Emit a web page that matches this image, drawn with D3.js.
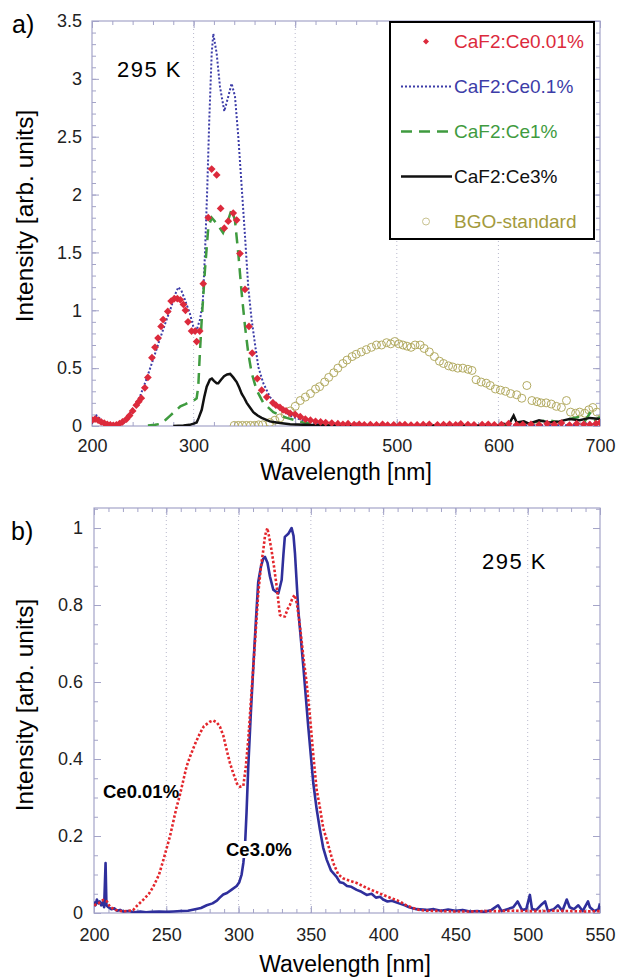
<!DOCTYPE html>
<html>
<head>
<meta charset="utf-8">
<script src="https://cdn.jsdelivr.net/npm/d3@7"></script>
<style>
  body { margin: 0; background: #fff; }
  svg text { font-family: "Liberation Sans", Arial, sans-serif; }
</style>
</head>
<body>
<svg width="619" height="979"></svg>
<script>
// ---- panel a) data: [wavelength nm, intensity] ----
var ce001A = [[200,0.05],[203,0.06],[206,0.05],[209,0.035],[212,0.025],[215,0.015],[218,0.01],[221,0.006],[224,0.01],[227,0.02],[230,0.035],[234,0.06],[237,0.09],[240,0.13],[243.6,0.18],[246,0.21],[248.5,0.24],[252,0.33],[255,0.42],[259,0.59],[262,0.68],[265,0.76],[268,0.86],[270,0.92],[274.6,0.99],[277.9,1.08],[281,1.1],[284,1.1],[287,1.09],[290,1.05],[292,1.0],[294.5,0.9],[298,0.82],[301.5,0.82],[303,0.73],[306,0.82],[309.5,1.23],[314.4,1.8],[317.8,2.22],[322.7,2.17],[326.6,1.88],[330.2,1.71],[334.1,1.77],[339,1.84],[342.4,1.78],[345.6,1.49],[350.6,1.18],[354.5,0.86],[357.7,0.63],[362.7,0.41],[367,0.31],[372,0.25],[378,0.2],[381,0.18],[385,0.16],[388,0.14],[391,0.13],[395,0.11],[400,0.1],[405,0.08],[410,0.06],[415,0.05],[420,0.04],[425,0.035],[430,0.03],[436,0.025],[442,0.02],[447,0.015],[452,0.02],[458,0.012],[463,0.015],[468,0.01],[474,0.012],[480,0.01],[486,0.015],[491,0.008],[497,0.01],[503,0.01],[508,0.012],[514,0.008],[520,0.01],[526,0.012],[532,0.015],[540,0.01],[546,0.012],[552,0.015],[558,0.01],[563,0.018],[570,0.012],[576,0.01],[584,0.012],[590,0.015],[596,0.01],[603,0.012],[610,0.02],[618,0.01],[624,0.012],[632,0.015],[640,0.01],[648,0.02],[655,0.012],[662,0.025],[670,0.008],[677,0.02],[684,0.015],[690,0.012],[696,0.02],[700,0.03]];

var ce01A = [[200,0.02],[202,0.06],[204.6,0.09],[207,0.07],[211,0.035],[215,0.02],[221,0.006],[226,0.01],[230.6,0.02],[235,0.06],[240,0.15],[247,0.25],[253.4,0.4],[260,0.57],[266.4,0.74],[273,0.91],[278,1.03],[282,1.14],[285,1.2],[288,1.17],[291.5,1.09],[296.4,0.97],[299.7,0.86],[303,0.83],[306.3,0.92],[309,1.06],[311.2,1.49],[313.5,2.07],[315.4,2.64],[317.8,3.22],[319.4,3.39],[322.7,3.22],[326,2.93],[330.2,2.72],[334.2,2.85],[337.4,2.96],[340.7,2.85],[344,2.5],[347.3,2.07],[350.6,1.64],[353.8,1.2],[357.1,0.92],[360.4,0.71],[363.7,0.51],[368.6,0.37],[375.2,0.25],[381,0.19],[388.3,0.14],[395,0.09],[400,0.07],[408,0.05],[415,0.03],[425,0.02],[440,0.01],[460,0.005],[500,0.004],[560,0.004],[620,0.005],[660,0.006],[680,0.01],[690,0.03],[695,0.01],[700,0.02]];

var ce1A = [[255,0.005],[262,0.01],[268,0.02],[272,0.05],[277,0.09],[282,0.13],[287,0.17],[292,0.19],[296.4,0.21],[300,0.22],[303,0.24],[304.6,0.34],[306,0.6],[308,0.92],[311.2,1.35],[314.5,1.72],[317.8,1.8],[322.7,1.75],[329,1.67],[334,1.78],[337.4,1.87],[340.7,1.78],[344,1.49],[347.3,1.15],[350.6,0.86],[353.8,0.63],[357.1,0.46],[362,0.31],[368.6,0.2],[378.5,0.12],[391.6,0.07],[408,0.03],[420,0.015],[440,0.005],[500,0.004],[560,0.005],[600,0.006],[610,0.01],[620,0.03],[630,0.02],[640,0.04],[650,0.05],[660,0.03],[670,0.06],[680,0.08],[685,0.04],[690,0.11],[695,0.05],[700,0.08]];

var ce3A = [[280,0.0],[290,0.005],[296,0.01],[300,0.02],[303,0.03],[305,0.07],[308,0.14],[310.5,0.25],[312.9,0.34],[316,0.4],[318,0.41],[320,0.39],[322.7,0.37],[324.3,0.37],[327,0.4],[330,0.43],[333,0.445],[336,0.45],[339,0.42],[342.4,0.38],[345,0.33],[347.3,0.28],[350,0.24],[352.3,0.2],[355.5,0.16],[358.8,0.12],[363,0.09],[367,0.07],[375,0.04],[385,0.025],[395,0.015],[410,0.01],[430,0.005],[500,0.004],[560,0.005],[600,0.005],[605,0.02],[610,0.01],[615,0.09],[618,0.03],[625,0.04],[630,0.02],[640,0.05],[650,0.03],[660,0.04],[670,0.06],[680,0.05],[690,0.07],[700,0.06]];

var bgoA = [[340,0.005],[344,0.005],[348,0.005],[352,0.005],[356,0.005],[360,0.005],[364,0.01],[368,0.01],[375,0.03],[380,0.05],[385,0.07],[390,0.1],[395,0.13],[400,0.17],[405,0.22],[410,0.25],[415,0.28],[420,0.32],[424,0.34],[429,0.38],[433,0.42],[438,0.46],[442,0.5],[447,0.54],[451,0.57],[456,0.6],[460,0.62],[465,0.64],[470,0.66],[475,0.68],[480,0.7],[485,0.7],[490,0.72],[494,0.71],[498,0.73],[502,0.71],[506,0.7],[510,0.69],[514,0.68],[518,0.7],[523,0.7],[527,0.67],[532,0.64],[537,0.6],[542,0.56],[546,0.54],[551,0.52],[555,0.51],[560,0.5],[565,0.5],[570,0.49],[574,0.48],[578,0.4],[583,0.38],[588,0.37],[592,0.35],[597,0.32],[602,0.31],[607,0.3],[612,0.28],[618,0.27],[623,0.24],[628,0.35],[633,0.22],[638,0.21],[642,0.2],[647,0.2],[652,0.19],[657,0.17],[662,0.16],[667,0.22],[671,0.12],[676,0.11],[680,0.12],[685,0.11],[689,0.14],[693,0.16],[697,0.12]];

// ---- panel b) data ----
var ce001B = [[200,0.02],[203,0.025],[206.4,0.034],[209,0.03],[211,0.016],[215,0.008],[220,0.004],[227,0.007],[230,0.02],[234,0.034],[238,0.05],[241,0.068],[245,0.1],[248,0.138],[250,0.165],[252.6,0.2],[255,0.24],[257.2,0.276],[259,0.3],[261.8,0.345],[264,0.38],[266.4,0.406],[270,0.44],[273.3,0.467],[276,0.485],[280.2,0.497],[282.5,0.5],[285,0.495],[287.1,0.484],[289.5,0.46],[291.8,0.423],[294,0.39],[296.3,0.363],[299,0.335],[301,0.328],[303.3,0.33],[305,0.38],[306.7,0.45],[308.5,0.55],[310.2,0.64],[312,0.74],[313.6,0.83],[315.5,0.9],[317,0.94],[318.3,0.98],[319.9,1.0],[321.5,0.97],[322.9,0.94],[324.5,0.9],[326.3,0.85],[328.6,0.774],[330.5,0.77],[332,0.77],[334,0.79],[335.5,0.8],[337.5,0.82],[339,0.826],[340.5,0.8],[342.5,0.744],[345,0.66],[347,0.6],[349.4,0.51],[351.7,0.41],[354,0.32],[356,0.28],[358.6,0.22],[361,0.19],[365.5,0.13],[369,0.1],[372.4,0.09],[376,0.085],[381.7,0.078],[388.6,0.065],[395,0.055],[400,0.047],[406,0.038],[411.6,0.03],[416,0.02],[420.6,0.013],[425,0.008],[430,0.006],[440,0.005],[450,0.004],[460,0.004],[470,0.005],[480,0.005],[490,0.006],[500,0.005],[510,0.005],[520,0.006],[530,0.005],[540,0.004],[550,0.005]];

var ce3B = [[200,0.03],[201,0.02],[202,0.035],[203,0.025],[204,0.03],[205,0.02],[206,0.028],[207,0.015],[208,0.13],[208.6,0.02],[210,0.015],[212,0.01],[214,0.012],[216,0.006],[218,0.008],[220,0.004],[224,0.005],[228,0.002],[232,0.004],[236,0.002],[240,0.003],[245,0.004],[250,0.003],[255,0.004],[260,0.005],[265,0.006],[270,0.01],[274,0.013],[278,0.02],[282,0.025],[285,0.032],[287,0.04],[289.4,0.048],[292,0.052],[295,0.06],[298.7,0.07],[300.5,0.08],[302.1,0.1],[303.3,0.13],[304.4,0.17],[305.5,0.26],[306.7,0.38],[308.5,0.52],[310.2,0.64],[312,0.76],[313.6,0.86],[315.5,0.9],[317,0.92],[318.3,0.925],[320,0.91],[321.7,0.874],[324,0.84],[327.5,0.83],[329.8,0.865],[331,0.93],[332,0.977],[334.4,0.985],[336.7,1.0],[338,0.98],[339,0.935],[341.3,0.787],[344.8,0.64],[348.2,0.484],[351.7,0.337],[354,0.27],[356.3,0.216],[358.5,0.17],[361,0.138],[364,0.11],[367.8,0.094],[370,0.08],[372.4,0.078],[375,0.07],[378,0.068],[381.7,0.06],[385,0.055],[388.6,0.047],[392,0.05],[395,0.04],[398,0.042],[400,0.035],[403,0.03],[406,0.032],[411,0.025],[415,0.02],[418,0.015],[423,0.01],[430,0.008],[435,0.01],[440,0.006],[445,0.009],[450,0.006],[455,0.008],[460,0.004],[465,0.005],[470,0.003],[475,0.008],[479.5,0.02],[482,0.005],[486,0.01],[490,0.015],[493,0.03],[496,0.008],[499,0.01],[501.5,0.047],[503,0.01],[506,0.008],[509,0.02],[512,0.03],[514,0.005],[518,0.01],[521,0.02],[524,0.005],[527,0.035],[529,0.015],[532,0.01],[535,0.02],[538,0.005],[541.7,0.03],[543,0.015],[546,0.005],[549,0.01],[550,0.025]];

// ---- tick labels / legend ----
var xTicksA = [200, 300, 400, 500, 600, 700];
var yTicksA = [0, 0.5, 1, 1.5, 2, 2.5, 3, 3.5];
var xTicksB = [200, 250, 300, 350, 400, 450, 500, 550];
var yTicksB = [0, 0.2, 0.4, 0.6, 0.8, 1];
var legendNames = ["CaF2:Ce0.01%", "CaF2:Ce0.1%", "CaF2:Ce1%", "CaF2:Ce3%", "BGO-standard"];
var legendColors = ["#dc2a3c", "#3c3ca8", "#3f9b3f", "#111111", "#a39a3c"];

var svg = d3.select("svg");
var frameColor = "#a4a4c8";

function axes(g, x, y, o) {
  var w = x.range()[1], h = y.range()[0];
  var fmt = function(d) { return String(d); };

  g.selectAll(".grid").data(o.grid).enter().append("line")
      .attr("x1", function(d) { return x(d); }).attr("x2", function(d) { return x(d); })
      .attr("y1", 0).attr("y2", h)
      .attr("stroke", "#b8b8cc").attr("stroke-width", 1).attr("stroke-dasharray", "1,3");

  var list = [
    [d3.axisBottom(x).tickValues(o.xMinor).tickSize(-4).tickFormat(""), 0, h],
    [d3.axisTop(x).tickValues(o.xMinor).tickSize(-4).tickFormat(""), 0, 0],
    [d3.axisLeft(y).tickValues(o.yMinor).tickSize(-4).tickFormat(""), 0, 0],
    [d3.axisRight(y).tickValues(o.yMinor).tickSize(-4).tickFormat(""), w, 0],
    [d3.axisBottom(x).tickValues(o.xTicks).tickSize(-7).tickPadding(o.xPad).tickFormat(fmt), 0, h],
    [d3.axisTop(x).tickValues(o.xTicks).tickSize(-7).tickFormat(""), 0, 0],
    [d3.axisLeft(y).tickValues(o.yTicks).tickSize(-7).tickPadding(o.yPad).tickFormat(fmt), 0, 0],
    [d3.axisRight(y).tickValues(o.yTicks).tickSize(-7).tickFormat(""), w, 0]
  ];
  list.forEach(function(a) {
    var ax = g.append("g")
        .attr("transform", "translate(" + a[1] + "," + a[2] + ")")
        .call(a[0].tickSizeOuter(0));
    ax.select(".domain").remove();
    ax.selectAll("line").attr("stroke", frameColor);
    ax.attr("font-size", 18).attr("font-family", null);
    ax.selectAll("text").attr("fill", "#222");
  });

  g.append("rect")
      .attr("width", w).attr("height", h)
      .attr("fill", "none").attr("stroke", frameColor).attr("stroke-width", 1.2);
}

// ================= panel a =================
var wA = 508, hA = 405;
var xA = d3.scaleLinear().domain([200, 700]).range([0, wA]);
var yA = d3.scaleLinear().domain([0, 3.5]).range([hA, 0]);
var gA = svg.append("g").attr("transform", "translate(92,21)");

axes(gA, xA, yA, {
  grid: [300, 400, 500, 600],
  xTicks: xTicksA, yTicks: yTicksA,
  xMinor: d3.range(200, 701, 20), yMinor: d3.range(0, 3.51, 0.1),
  xPad: 13, yPad: 10
});

gA.append("clipPath").attr("id", "clipA").append("rect").attr("width", wA).attr("height", hA);
var plotA = gA.append("g").attr("clip-path", "url(#clipA)");
var lineA = d3.line().x(function(d) { return xA(d[0]); }).y(function(d) { return yA(d[1]); });

plotA.selectAll(".bgo").data(bgoA).enter().append("circle")
    .attr("cx", function(d) { return xA(d[0]); })
    .attr("cy", function(d) { return yA(d[1]); })
    .attr("r", 4)
    .attr("fill", "none").attr("stroke", "#b3ab62").attr("stroke-width", 1);

plotA.append("path").datum(ce01A).attr("d", lineA)
    .attr("fill", "none").attr("stroke", legendColors[1]).attr("stroke-width", 2)
    .attr("stroke-dasharray", "2,2");

plotA.append("path").datum(ce1A).attr("d", lineA)
    .attr("fill", "none").attr("stroke", legendColors[2]).attr("stroke-width", 2.5)
    .attr("stroke-dasharray", "11,7");

plotA.append("path").datum(ce3A).attr("d", lineA)
    .attr("fill", "none").attr("stroke", legendColors[3]).attr("stroke-width", 2.5);

var diamond = d3.symbol().type(d3.symbolSquare).size(30);
plotA.selectAll(".dia").data(ce001A).enter().append("path")
    .attr("d", diamond)
    .attr("transform", function(d) { return "translate(" + xA(d[0]) + "," + yA(d[1]) + ") rotate(45)"; })
    .attr("fill", legendColors[0]);

// legend
var leg = svg.append("g");
leg.append("rect")
    .attr("x", 390).attr("y", 22).attr("width", 204).attr("height", 217)
    .attr("fill", "#fff").attr("stroke", "#000").attr("stroke-width", 2);
legendNames.forEach(function(name, i) {
  var base = 48 + i * 45, cy = base - 6.5;
  if (i === 0) {
    leg.append("path").attr("d", d3.symbol().type(d3.symbolSquare).size(18))
        .attr("transform", "translate(426," + cy + ") rotate(45)")
        .attr("fill", legendColors[0]);
  } else if (i === 4) {
    leg.append("circle").attr("cx", 426).attr("cy", cy).attr("r", 3.5)
        .attr("fill", "none").attr("stroke", "#c8c290").attr("stroke-width", 1);
  } else {
    leg.append("line").attr("x1", 401).attr("x2", 452).attr("y1", cy).attr("y2", cy)
        .attr("stroke", legendColors[i])
        .attr("stroke-width", i === 1 ? 2 : 2.5)
        .attr("stroke-dasharray", i === 1 ? "2,2" : (i === 2 ? "11,7" : null));
  }
  leg.append("text").attr("x", 454).attr("y", base)
      .attr("font-size", 19).attr("fill", legendColors[i]).text(name);
});

svg.append("text").attr("x", 12).attr("y", 33).attr("font-size", 25).text("a)");
svg.append("text").attr("x", 117).attr("y", 77).attr("font-size", 22)
    .attr("letter-spacing", 1.5).text("295 K");
svg.append("text").attr("transform", "translate(33,216) rotate(-90)")
    .attr("text-anchor", "middle").attr("font-size", 24.5).text("Intensity [arb. units]");
svg.append("text").attr("x", 346).attr("y", 480).attr("text-anchor", "middle")
    .attr("font-size", 23).text("Wavelength [nm]");

// ================= panel b =================
var wB = 506, hB = 405;
var xB = d3.scaleLinear().domain([200, 550]).range([0, wB]);
var yB = d3.scaleLinear().domain([0, 1.052]).range([hB, 0]);
var gB = svg.append("g").attr("transform", "translate(94,508)");

axes(gB, xB, yB, {
  grid: [250, 300, 350, 400, 450, 500],
  xTicks: xTicksB, yTicks: yTicksB,
  xMinor: d3.range(200, 551, 10), yMinor: d3.range(0, 1.051, 0.05),
  xPad: 15, yPad: 11
});

gB.append("clipPath").attr("id", "clipB").append("rect").attr("width", wB).attr("height", hB);
var plotB = gB.append("g").attr("clip-path", "url(#clipB)");
var lineB = d3.line().x(function(d) { return xB(d[0]); }).y(function(d) { return yB(d[1]); });

plotB.append("path").datum(ce3B).attr("d", lineB)
    .attr("fill", "none").attr("stroke", "#2f2f9c").attr("stroke-width", 2.6)
    .attr("stroke-linejoin", "round");

plotB.append("path").datum(ce001B).attr("d", lineB)
    .attr("fill", "none").attr("stroke", "#e3262c").attr("stroke-width", 2.6)
    .attr("stroke-dasharray", "2.5,2");

svg.append("text").attr("x", 103).attr("y", 798).attr("font-size", 18.5)
    .attr("font-weight", "bold").text("Ce0.01%");
var lab3 = svg.append("text").attr("x", 226).attr("y", 856).attr("font-size", 18.5)
    .attr("font-weight", "bold").text("Ce3.0%");
var bb = lab3.node().getBBox();
svg.insert("rect", function() { return lab3.node(); })
    .attr("x", bb.x - 1).attr("y", bb.y + 2).attr("width", bb.width + 2).attr("height", bb.height - 4)
    .attr("fill", "#fff");

svg.append("text").attr("x", 11).attr("y", 540).attr("font-size", 25).text("b)");
svg.append("text").attr("x", 482).attr("y", 569).attr("font-size", 22)
    .attr("letter-spacing", 1.5).text("295 K");
svg.append("text").attr("transform", "translate(33,705) rotate(-90)")
    .attr("text-anchor", "middle").attr("font-size", 24.5).text("Intensity [arb. units]");
svg.append("text").attr("x", 345).attr("y", 972).attr("text-anchor", "middle")
    .attr("font-size", 23).text("Wavelength [nm]");
</script>
</body>
</html>
